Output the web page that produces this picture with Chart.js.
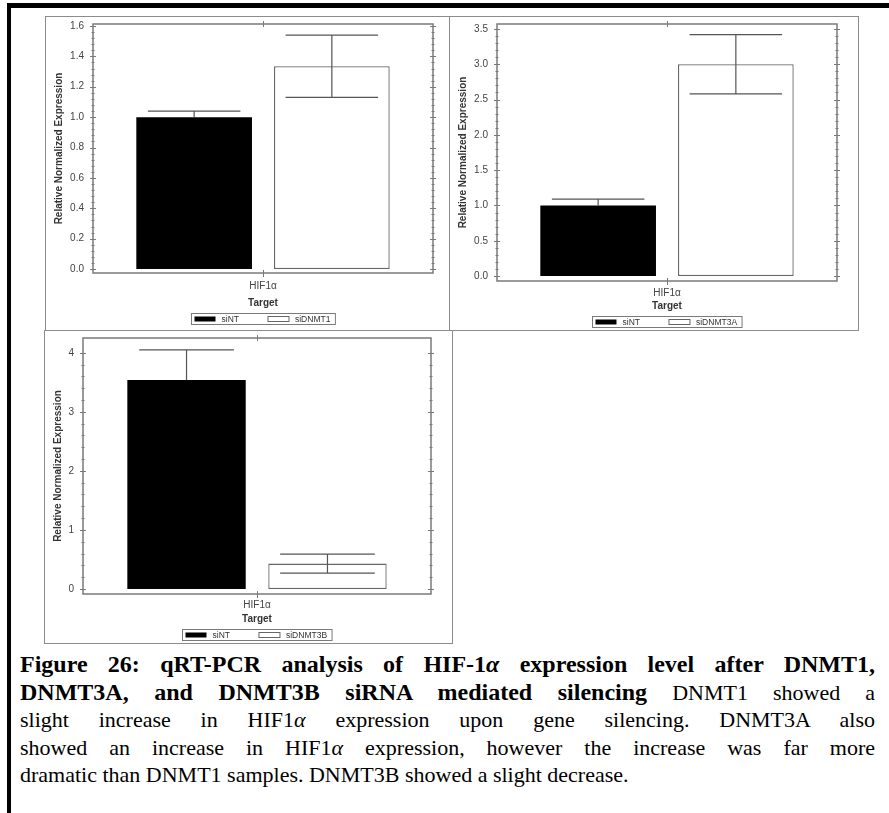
<!DOCTYPE html>
<html>
<head>
<meta charset="utf-8">
<script src="https://cdn.jsdelivr.net/npm/chart.js@4.4.1/dist/chart.umd.min.js"></script>
<style>
  body { margin: 0; background: #fff; width: 889px; height: 813px; overflow: hidden; position: relative; }
  #outer { position: absolute; left: 7px; top: 3px; width: 950px; height: 900px; border-top: 5px solid #000; border-left: 4px solid #000; }
  .panel { position: absolute; border: 1px solid #8c8c8c; box-sizing: border-box; background: #fff; }
  .panel canvas { position: absolute; left: 0; top: 0; }
  #caption { position: absolute; left: 20px; top: 651px; width: 855px;
    font-family: "Liberation Serif", "Times New Roman", serif; font-size: 22px; line-height: 27.5px; color: #000; }
  #caption b { font-size: 24px; }
  #caption div { text-align: justify; text-align-last: justify; white-space: nowrap; height: 27.5px; }
  #caption div.last { text-align-last: left; }
</style>
</head>
<body>
<div id="outer"></div>
<div class="panel" style="left:45px;top:16px;width:405px;height:315px"><canvas id="c1" width="403" height="313"></canvas></div>
<div class="panel" style="left:449px;top:16px;width:410px;height:315px"><canvas id="c2" width="408" height="313"></canvas></div>
<div class="panel" style="left:44px;top:330px;width:409px;height:314px"><canvas id="c3" width="407" height="312"></canvas></div>

<div id="caption">
  <div><b>Figure 26: qRT-PCR analysis of HIF-1<i>α</i> expression level after DNMT1,</b></div>
  <div><b>DNMT3A, and DNMT3B siRNA mediated silencing</b> DNMT1 showed a</div>
  <div>slight increase in HIF1<i>α</i> expression upon gene silencing. DNMT3A also</div>
  <div>showed an increase in HIF1<i>α</i> expression, however the increase was far more</div>
  <div class="last">dramatic than DNMT1 samples. DNMT3B showed a slight decrease.</div>
</div>

<script>
// data
const categories = ["HIF1α"];
const controlName = "siNT";

const dnmt1Names = [controlName, "siDNMT1"];
const dnmt1Values = [1.0, 1.335];
const dnmt1Errors = [0.04, 0.205];
const dnmt1Ticks = [0, 0.2, 0.4, 0.6, 0.8, 1.0, 1.2, 1.4, 1.6];

const dnmt3aNames = [controlName, "siDNMT3A"];
const dnmt3aValues = [1.0, 3.0];
const dnmt3aErrors = [0.09, 0.42];
const dnmt3aTicks = [0, 0.5, 1.0, 1.5, 2.0, 2.5, 3.0, 3.5];

const dnmt3bNames = [controlName, "siDNMT3B"];
const dnmt3bValues = [3.54, 0.43];
const dnmt3bErrors = [0.51, 0.16];
const dnmt3bTicks = [0, 1, 2, 3, 4];

Chart.defaults.font.family = "'Liberation Sans', Arial, sans-serif";
Chart.defaults.animation = false;

const FRAME = "#7a7a7a";
const SOLID = "#000";

// box around the plot with mirrored major/minor ticks
const framePlugin = {
  id: "frame",
  beforeDatasetsDraw(chart) {
    const { ctx, chartArea: a, scales: { x, y } } = chart;
    const tv = y.ticks.map(t => t.value);
    ctx.save();
    ctx.strokeStyle = FRAME;
    ctx.lineWidth = 1.5;
    ctx.strokeRect(a.left, a.top, a.right - a.left, a.bottom - a.top);
    ctx.lineWidth = 1;
    ctx.beginPath();
    tv.forEach((v, i) => {
      const py = Math.round(y.getPixelForValue(v)) + 0.5;
      ctx.moveTo(a.left - 3, py); ctx.lineTo(a.left + 3, py);
      ctx.moveTo(a.right - 3, py); ctx.lineTo(a.right + 3, py);
      if (i < tv.length - 1) {
        const step = (tv[i + 1] - v) / 5;
        for (let k = 1; k < 5; k++) {
          const my = Math.round(y.getPixelForValue(v + k * step)) + 0.5;
          ctx.moveTo(a.left - 1.5, my); ctx.lineTo(a.left + 1.5, my);
          ctx.moveTo(a.right - 1.5, my); ctx.lineTo(a.right + 1.5, my);
        }
      }
    });
    const px = Math.round(x.getPixelForValue(0)) + 0.5;
    ctx.moveTo(px, a.top - 3); ctx.lineTo(px, a.top + 3);
    ctx.moveTo(px, a.bottom - 3); ctx.lineTo(px, a.bottom + 4);
    ctx.stroke();
    ctx.restore();
  }
};

// whiskers; the lower half disappears inside a solid black bar
const errorBarPlugin = {
  id: "errbars",
  afterDatasetsDraw(chart) {
    const { ctx, scales: { y } } = chart;
    ctx.save();
    ctx.strokeStyle = "#555";
    ctx.lineWidth = 1.2;
    chart.data.datasets.forEach((ds, i) => {
      const bar = chart.getDatasetMeta(i).data[0];
      const v = ds.data[0], e = ds.errors[0];
      const top = y.getPixelForValue(v + e);
      const bot = ds.backgroundColor === SOLID ? bar.y : y.getPixelForValue(v - e);
      const half = bar.width * 0.4;
      ctx.beginPath();
      ctx.moveTo(bar.x, top); ctx.lineTo(bar.x, bot);
      ctx.moveTo(bar.x - half, top); ctx.lineTo(bar.x + half, top);
      if (ds.backgroundColor !== SOLID) { ctx.moveTo(bar.x - half, bot); ctx.lineTo(bar.x + half, bot); }
      ctx.stroke();
    });
    ctx.restore();
  }
};

// boxed legend under the axis title
const boxLegendPlugin = {
  id: "boxLegend",
  afterDraw(chart) {
    const { ctx, chartArea: a, scales: { x } } = chart;
    const sets = chart.data.datasets;
    ctx.save();
    ctx.font = "8.5px 'Liberation Sans', Arial, sans-serif";
    const widths = sets.map(ds => ctx.measureText(ds.label).width);
    const sw = 21, gap = 6, mid = 29, padL = 3, padR = 5;
    const total = padL + sw + gap + widths[0] + mid + sw + gap + widths[1] + padR;
    const left = Math.round((a.left + a.right) / 2 - total / 2) + 0.5;
    const top = Math.round(x.bottom + 4) + 0.5;
    const h = 11;
    ctx.strokeStyle = FRAME;
    ctx.lineWidth = 1;
    ctx.strokeRect(left, top, total, h);
    let cx = left + padL;
    sets.forEach((ds, i) => {
      ctx.fillStyle = ds.backgroundColor;
      ctx.fillRect(cx, top + 3, sw, 5);
      if (ds.borderWidth) { ctx.strokeStyle = "#666"; ctx.strokeRect(cx, top + 3, sw, 5); }
      cx += sw + gap;
      ctx.fillStyle = "#333";
      ctx.textBaseline = "middle";
      ctx.fillText(ds.label, cx, top + h / 2 + 0.5);
      cx += widths[i] + mid;
    });
    ctx.restore();
  }
};

function makeChart(id, names, values, errors, ticks, opt) {
  return new Chart(document.getElementById(id), {
    type: "bar",
    data: {
      labels: categories,
      datasets: [
        { label: names[0], data: [values[0]], errors: [errors[0]], backgroundColor: SOLID, borderWidth: 0 },
        { label: names[1], data: [values[1]], errors: [errors[1]], backgroundColor: "#fff",
          borderColor: "#666", borderWidth: 1.3, borderSkipped: false }
      ]
    },
    options: {
      responsive: false,
      layout: { padding: { top: 0, right: opt.right, bottom: opt.bottom, left: 0 } },
      datasets: { bar: { categoryPercentage: 0.81, barPercentage: 0.84 } },
      plugins: { legend: { display: false }, tooltip: { enabled: false } },
      scales: {
        x: {
          grid: { display: false, drawTicks: false },
          border: { display: false },
          ticks: { padding: opt.xPad, color: "#444", font: { size: 10 } },
          title: { display: true, text: "Target", color: "#333", font: { size: 10, weight: "bold" }, padding: { top: 0, bottom: 0 } },
          afterFit: s => { s.height = opt.xHeight; }
        },
        y: {
          min: opt.min,
          max: opt.max,
          afterBuildTicks: s => { s.ticks = ticks.map(v => ({ value: v })); },
          afterFit: s => { s.width = opt.yWidth; },
          grid: { display: false, drawTicks: true, tickLength: 8 },
          border: { display: false },
          ticks: { padding: 1, color: "#444", font: { size: 10 }, callback: opt.fmt },
          title: { display: true, text: "Relative Normalized Expression", color: "#333",
                   font: { size: 10, weight: "bold" }, padding: { top: 7, bottom: 0 } }
        }
      }
    },
    plugins: [framePlugin, errorBarPlugin, boxLegendPlugin]
  });
}

const oneDecimal = v => Number(v).toFixed(1);

makeChart("c1", dnmt1Names, dnmt1Values, dnmt1Errors, dnmt1Ticks,
  { min: -0.026, max: 1.613, right: 16, bottom: 21, yWidth: 47, xHeight: 36, xPad: 7, fmt: oneDecimal });
makeChart("c2", dnmt3aNames, dnmt3aValues, dnmt3aErrors, dnmt3aTicks,
  { min: -0.07, max: 3.57, right: 21, bottom: 18, yWidth: 47, xHeight: 31, xPad: 6, fmt: oneDecimal });
makeChart("c3", dnmt3bNames, dnmt3bValues, dnmt3bErrors, dnmt3bTicks,
  { min: -0.085, max: 4.25, right: 21, bottom: 18, yWidth: 38, xHeight: 31, xPad: 5, fmt: v => String(v) });
</script>
</body>
</html>
